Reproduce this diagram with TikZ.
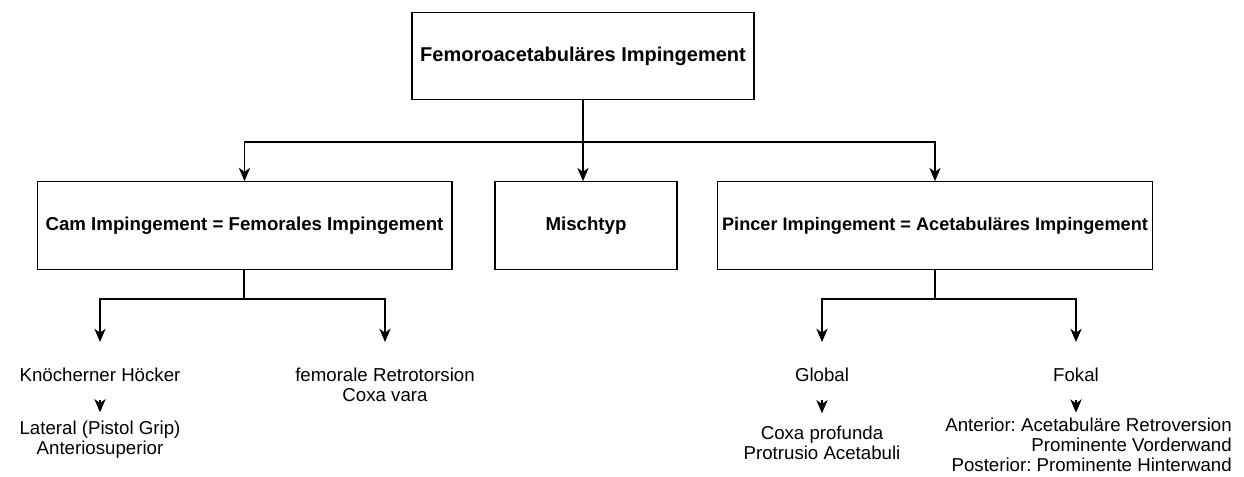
\documentclass[tikz,border=0pt]{standalone}
\usepackage{fontspec}
\setmainfont{Liberation Sans}
\usetikzlibrary{arrows.meta}

\begin{document}
\begin{tikzpicture}[x=0.75pt, y=-0.75pt,
    box/.style={draw, line width=1pt, minimum height=65.5pt, font=\fontsize{14}{17}\selectfont\bfseries},
    txt/.style={inner sep=0pt, align=center, font=\fontsize{14}{15}\selectfont\frenchspacing},
    arr/.style={-{Stealth[length=10pt, width=8.5pt, inset=3pt]}, line width=1pt},
    branch/.style={arr, shorten >=19.5pt},
    stub/.style={arr, shorten <=13pt}]
    \useasboundingbox (0,0) rectangle (1244,477);

    % boxes
    \node[box, minimum width=256.5pt, font=\fontsize{15}{18}\selectfont\bfseries] (fai) at (583,56) {Femoroacetabuläres Impingement};
    \node[box, minimum width=311pt] (cam) at (244.5,225.5) {Cam Impingement = Femorales Impingement};
    \node[box, minimum width=136.5pt] (misch) at (586,225.5) {Mischtyp};
    \node[box, minimum width=325.5pt, font=\fontsize{13.6}{17}\selectfont\bfseries] (pincer) at (935,225.5) {Pincer Impingement = Acetabuläres Impingement};

    % texts below
    \node[txt, anchor=north] (hoecker) at (100,368) {Knöcherner Höcker};
    \node[txt, anchor=north] (lateral) at (100,421) {Lateral (Pistol Grip)\\Anteriosuperior};
    \node[txt, anchor=north] (retro) at (385,368) {femorale Retrotorsion\\Coxa vara};
    \node[txt, anchor=north] (global) at (822,368) {Global};
    \node[txt, anchor=north] (profunda) at (822,426) {Coxa profunda\\Protrusio Acetabuli};
    \node[txt, anchor=north] (fokal) at (1076,368) {Fokal};
    \node[txt, anchor=north east, align=right] (fokaltext) at (1232,418)
        {Anterior: Acetabuläre Retroversion\\Prominente Vorderwand\\Posterior: Prominente Hinterwand};

    \coordinate (fai split) at (583,142);
    \coordinate (cam split) at (244,299);
    \coordinate (pincer split) at (935,299);

    \draw[arr] (fai.south) -- (fai split) -| (cam.north);
    \draw[arr] (fai split) -- (misch.north -| fai split);
    \draw[arr] (fai split) -| (pincer.north);

    \draw[branch] (cam.south -| cam split) -- (cam split) -| (hoecker.north);
    \draw[branch] (cam split) -| (retro.north);
    \draw[branch] (pincer.south) -- (pincer split) -| (global.north);
    \draw[branch] (pincer split) -| (fokal.north);

    \draw[stub, shorten >=6.5pt] (hoecker.south) -- (lateral.north);
    \draw[stub, shorten >=9.5pt] (global.south) -- (profunda.north);
    \draw[stub, shorten >=4pt] (fokal.south) -- (fokal.south |- fokaltext.north);
\end{tikzpicture}
\end{document}
